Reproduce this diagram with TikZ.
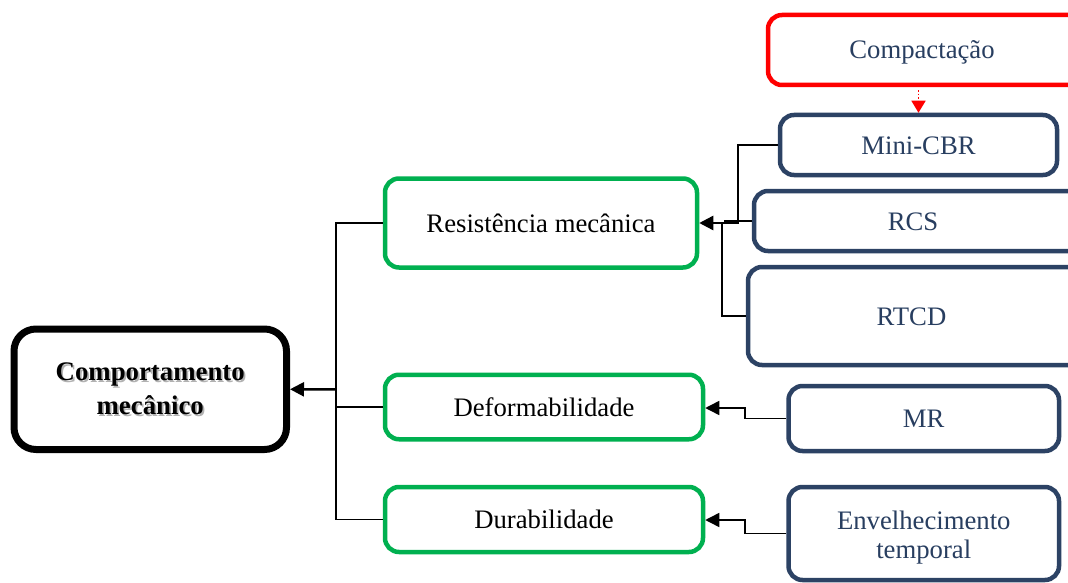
\documentclass[tikz,border=0pt]{standalone}
\usepackage{fontspec}
\setmainfont{Liberation Serif}
\usetikzlibrary{arrows.meta}
\definecolor{grn}{RGB}{0,176,80}
\definecolor{navy}{RGB}{44,66,100}
\definecolor{txtblue}{RGB}{40,62,96}
\tikzset{
 box/.style={draw, rounded corners=14pt, align=center, inner sep=0pt, text height=22pt, text depth=4pt, font=\fontsize{26.7}{29}\selectfont},
 rootbox/.style={box, line width=7pt, rounded corners=22pt, text height=54pt, text depth=4pt, font=\bfseries\fontsize{26.8}{34}\selectfont},
 grnbox/.style={box, draw=grn, line width=4.5pt},
 bluebox/.style={box, draw=navy, line width=4.5pt, text=txtblue},
 redbox/.style={box, draw=red, line width=4.5pt, text=txtblue},
 inlabel/.style={inner sep=0pt, text height=22pt, text depth=4pt, text=txtblue, font=\fontsize{26.7}{29}\selectfont},
 link/.style={line width=1.5pt},
 arr/.style={link, -{Triangle[length=14pt,width=14pt]}},
 thickarr/.style={line width=2.5pt, -{Triangle[length=14pt,width=14pt]}},
 redarr/.style={red, line width=1.5pt, dotted, -{Triangle[length=12pt,width=14pt]}},
 shadowtext/.style={text=black!30, align=center, inner sep=0pt, text height=54pt, text depth=4pt, font=\bfseries\fontsize{26.8}{34}\selectfont},
}
\begin{document}
\begin{tikzpicture}[x=1pt,y=-1pt]
\clip (0,0) rectangle (1068,583);
\fill[white] (0,0) rectangle (1068,583);
% root
\node[shadowtext] (compshadow) at (152,391) {Comportamento\\mecânico};
\node[rootbox, minimum width=272.5pt, minimum height=120.5pt] (comp) at (150.25,389.25) {Comportamento\\mecânico};
% green boxes
\node[grnbox, minimum width=312pt, minimum height=89pt] (res) at (541,223) {Resistência mecânica};
\node[grnbox, minimum width=318pt, minimum height=64.5pt] (def) at (544,407) {Deformabilidade};
\node[grnbox, minimum width=318pt, minimum height=65pt] (dur) at (544,519.5) {Durabilidade};
% blue boxes (some run past the right edge)
\node[redbox, minimum width=340pt, minimum height=70pt,
      label={[inlabel, name=compactlbl, xshift=-16pt]center:Compactação}] (compact) at (938,50) {};
\node[bluebox, minimum width=277pt, minimum height=60pt] (mini) at (918.5,145) {Mini-CBR};
\node[bluebox, minimum width=346pt, minimum height=60pt,
      label={[inlabel, name=rcslbl, xshift=-14pt]center:RCS}] (rcs) at (927,221) {};
\node[bluebox, minimum width=352pt, minimum height=98pt,
      label={[inlabel, name=rtcdlbl, xshift=-12.5pt]center:RTCD}] (rtcd) at (924,316) {};
\node[bluebox, minimum width=270.5pt, minimum height=65pt] (mr) at (923.75,418.5) {MR};
\node[bluebox, minimum width=270.5pt, minimum height=93pt, text height=53pt, text depth=4pt] (env) at (923.75,533.5) {Envelhecimento\\temporal};
% main tree
\coordinate (trunk) at (336,389.5);
\draw[link] (res.west) -| (trunk);
\draw[link] (dur.west) -| (trunk);
\draw[link] (def.west) -- (def.west -| trunk);
\draw[thickarr] (trunk) -- (comp.east);
% resistance branch
\coordinate (jr) at (724,223);
\draw[link] (mini.west) -| (738,223) -- (jr);
\draw[link] (rcs.west) -- (rcs.west -| jr);
\draw[link] (rtcd.west) -| (722,223) -- (jr);
\draw[thickarr] (jr) -- (res.east);
% MR and aging
\coordinate (jm) at (745,408);
\draw[arr] (mr.west) -| (jm) -- (def.east |- jm);
\coordinate (je) at (745,520);
\draw[arr] (env.west) -| (je) -- (dur.east |- je);
% compaction
\draw[redarr, shorten <=3pt] (compact.south -| mini.north) -- (mini.north);
\end{tikzpicture}
\end{document}
